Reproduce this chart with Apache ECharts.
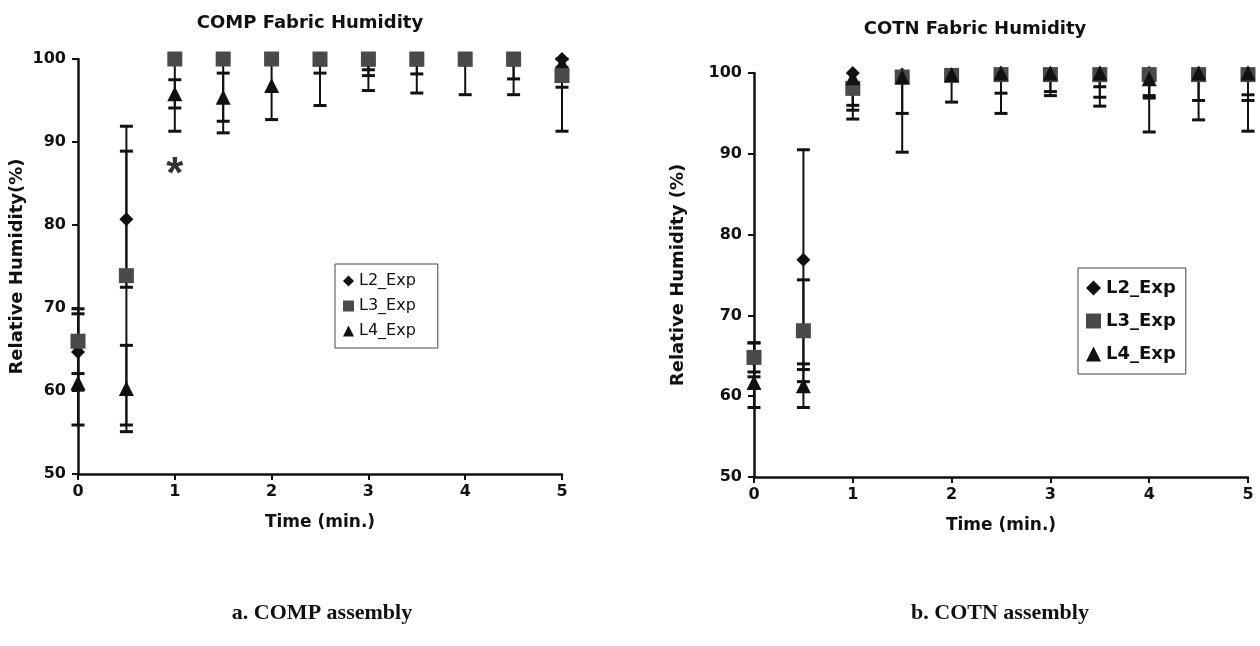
<!DOCTYPE html>
<html><head><meta charset="utf-8">
<script src="https://cdn.jsdelivr.net/npm/echarts@6/dist/echarts.min.js"></script>
<style>html,body{margin:0;padding:0;background:#fff}#c{width:1260px;height:646px}</style>
</head><body><div id="c"></div>
<script>
// ---- data ----
const times = [0, 0.5, 1, 1.5, 2, 2.5, 3, 3.5, 4, 4.5, 5];
const seriesNames = ['L2_Exp', 'L3_Exp', 'L4_Exp'];
const yTickValues = [50, 60, 70, 80, 90, 100];
const xTickValues = [0, 1, 2, 3, 4, 5];

// COMP (panel a)
const compL2 = [64.7, 80.7, 100, 100, 100, 100, 100, 100, 100, 100, 100];
const compL2Err = [4.6, 8.2, 0.5, 0.5, 0.5, 1.7, 2.0, 1.8, 0.5, 2.4, 3.4];
const compL3 = [66.0, 73.9, 100, 100, 100, 100, 100, 100, 100, 100, 98.0];
const compL3Err = [3.9, 18.0, 8.7, 8.9, 0.5, 5.6, 3.8, 4.1, 4.3, 4.3, 6.7];
const compL4 = [61.0, 60.3, 95.8, 95.4, 96.8, 100, 100, 100, 100, 100, 99.5];
const compL4Err = [5.1, 5.2, 1.7, 2.9, 4.1, 0.5, 1.3, 0.5, 0.5, 0.5, 0.5];
const compNote = [[1, 87.3, '*']];

// COTN (panel b)
const cotnL2 = [64.5, 76.9, 100, 99.8, 99.5, 100, 100, 100, 100, 100, 100];
const cotnL2Err = [2.1, 13.6, 4.0, 0.5, 0.5, 2.5, 2.3, 1.7, 3.1, 3.4, 2.7];
const cotnL3 = [64.8, 68.1, 98.1, 99.5, 99.7, 99.8, 99.8, 99.8, 99.8, 99.8, 99.8];
const cotnL3Err = [1.8, 6.3, 3.8, 4.5, 3.3, 0.5, 0.5, 2.8, 2.6, 0.5, 3.2];
const cotnL4 = [61.7, 61.3, 99.4, 99.5, 99.8, 100, 100, 100, 99.3, 100, 100];
const cotnL4Err = [3.1, 2.7, 4.0, 9.3, 0.5, 5.0, 2.8, 4.1, 6.6, 5.8, 7.2];

// ---- styling ----
const FONT = 'DejaVu Sans';
const Y_MAX = Math.max(...yTickValues);
const markerSymbols = ['diamond', 'rect', 'triangle'];
const markerSizes = [14, 15, 15];
const markerColors = ['#111111', '#4a4a4a', '#111111'];
const panelZ = [[4, 5, 3], [3, 4, 5]];

const chart = echarts.init(document.getElementById('c'), null, {renderer: 'canvas'});

function pts(vals) { return times.map((t, i) => [t, vals[i]]); }
function errPts(vals, errs) { return times.map((t, i) => [t, vals[i], errs[i]]); }

function errRender(params, api) {
  const x = api.value(0), y = api.value(1), e = api.value(2);
  const clipped = y + e > Y_MAX;
  const top = api.coord([x, Math.min(y + e, Y_MAX)]);
  const bot = api.coord([x, y - e]);
  const hw = 6.5;
  const children = [
    {type: 'line', shape: {x1: top[0], y1: top[1], x2: bot[0], y2: bot[1]}, style: {stroke: '#111', lineWidth: 2}},
    {type: 'line', shape: {x1: bot[0] - hw, y1: bot[1], x2: bot[0] + hw, y2: bot[1]}, style: {stroke: '#111', lineWidth: 3}}
  ];
  if (!clipped) {
    children.push({type: 'line', shape: {x1: top[0] - hw, y1: top[1], x2: top[0] + hw, y2: top[1]}, style: {stroke: '#111', lineWidth: 3}});
  }
  return {type: 'group', children};
}

function makeXAxis(gridIndex) {
  return {
    type: 'value', gridIndex, min: 0, max: 5, interval: 1,
    name: 'Time (min.)', nameLocation: 'middle', nameGap: 40,
    nameTextStyle: {fontFamily: FONT, fontWeight: 'bold', fontSize: 17, color: '#111'},
    axisLine: {show: true, onZero: false, lineStyle: {color: '#111', width: 2.5}},
    axisTick: {show: true, inside: false, length: 6, lineStyle: {color: '#111', width: 2}},
    axisLabel: {fontFamily: FONT, fontWeight: 'bold', fontSize: 16, color: '#111', margin: 10,
      formatter: v => xTickValues.includes(v) ? String(v) : ''},
    splitLine: {show: false}
  };
}
function makeYAxis(gridIndex, name, gap) {
  return {
    type: 'value', gridIndex, min: 50, max: 100, interval: 10,
    name, nameLocation: 'middle', nameGap: gap, nameRotate: 90,
    nameTextStyle: {fontFamily: FONT, fontWeight: 'bold', fontSize: 18, color: '#111'},
    axisLine: {show: true, onZero: false, lineStyle: {color: '#111', width: 2.5}},
    axisTick: {show: true, inside: false, length: 6, lineStyle: {color: '#111', width: 2}},
    axisLabel: {fontFamily: FONT, fontWeight: 'bold', fontSize: 16, color: '#111', margin: 12,
      formatter: v => yTickValues.includes(v) ? String(v) : ''},
    splitLine: {show: false}
  };
}

const panels = [
  {vals: [compL2, compL3, compL4], errs: [compL2Err, compL3Err, compL4Err]},
  {vals: [cotnL2, cotnL3, cotnL4], errs: [cotnL2Err, cotnL3Err, cotnL4Err]}
];

const series = [];
panels.forEach((p, gi) => {
  p.vals.forEach((v, si) => {
    series.push({
      type: 'custom', name: seriesNames[si] + '_err' + gi, xAxisIndex: gi, yAxisIndex: gi,
      renderItem: errRender, clip: false, z: 2, silent: true,
      encode: {x: 0, y: 1}, data: errPts(v, p.errs[si])
    });
  });
  p.vals.forEach((v, si) => {
    series.push({
      type: 'scatter', name: seriesNames[si], xAxisIndex: gi, yAxisIndex: gi,
      symbol: markerSymbols[si], symbolSize: markerSizes[si], z: panelZ[gi][si],
      itemStyle: {color: markerColors[si], opacity: 1}, data: pts(v), clip: false
    });
  });
});
series.push({
  type: 'scatter', name: 'note', xAxisIndex: 0, yAxisIndex: 0, symbolSize: 1,
  itemStyle: {color: 'rgba(0,0,0,0)'}, z: 6,
  label: {show: true, position: 'inside', formatter: d => d.data[2],
    fontFamily: 'Liberation Sans', fontWeight: 'bold', fontSize: 44, color: '#000', offset: [0, 11]},
  data: compNote
});

const legendData = seriesNames.map((n, i) => ({name: n, icon: markerSymbols[i]}));

chart.setOption({
  animation: false,
  backgroundColor: '#fff',
  title: [
    {text: 'COMP Fabric Humidity', left: 305, top: 9, textAlign: 'center',
      textStyle: {fontFamily: FONT, fontWeight: 'bold', fontSize: 18, color: '#111'}},
    {text: 'COTN Fabric Humidity', left: 970, top: 15, textAlign: 'center',
      textStyle: {fontFamily: FONT, fontWeight: 'bold', fontSize: 18, color: '#111'}},
    {text: '{b|a.} COMP assembly', left: 317, top: 597, textAlign: 'center',
      textStyle: {fontFamily: 'Liberation Serif', fontSize: 22, color: '#111',
        rich: {b: {fontFamily: 'Liberation Serif', fontWeight: 'bold', fontSize: 22, color: '#111'}}}},
    {text: '{b|b.} COTN assembly', left: 995, top: 597, textAlign: 'center',
      textStyle: {fontFamily: 'Liberation Serif', fontSize: 22, color: '#111',
        rich: {b: {fontFamily: 'Liberation Serif', fontWeight: 'bold', fontSize: 22, color: '#111'}}}}
  ],
  grid: [
    {left: 78, width: 484, top: 59, height: 415},
    {left: 754, width: 494, top: 73, height: 404}
  ],
  xAxis: [makeXAxis(0), makeXAxis(1)],
  yAxis: [makeYAxis(0, 'Relative Humidity(%)', 52), makeYAxis(1, 'Relative Humidity (%)', 67)],
  legend: [
    {data: legendData, orient: 'vertical', left: 335, top: 264, itemWidth: 11, itemHeight: 11, itemGap: 9,
      padding: [9, 22, 9, 8], borderColor: '#444', borderWidth: 1, selectedMode: false,
      textStyle: {fontFamily: FONT, fontSize: 16, color: '#111'}},
    {data: legendData, orient: 'vertical', left: 1078, top: 268, itemWidth: 15, itemHeight: 15, itemGap: 15,
      padding: [11, 10, 11, 8], borderColor: '#444', borderWidth: 1, selectedMode: false,
      textStyle: {fontFamily: FONT, fontSize: 18, fontWeight: 'bold', color: '#111'}}
  ],
  series
});
</script>
</body></html>
